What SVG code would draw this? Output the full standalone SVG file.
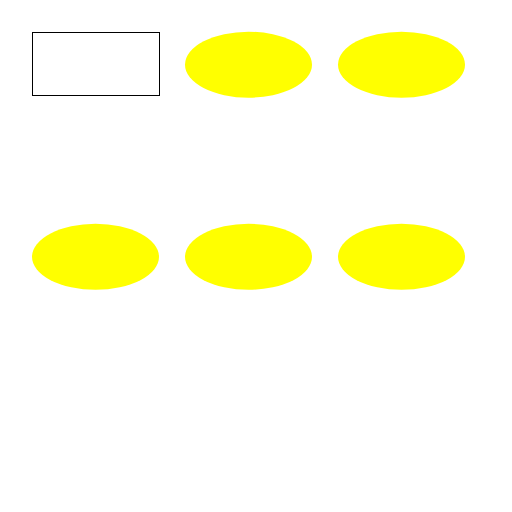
<svg xmlns="http://www.w3.org/2000/svg" width="512" height="512" viewBox="0 0 512 512">
<style>
.box{fill:#ffffff;stroke:#000000;stroke-width:1}
.oval{fill:#ffff00;stroke:none}
</style>
<rect width="512" height="512" fill="#ffffff"/>
<g id="node-rect"><rect class="box" x="32.5" y="32.5" width="127" height="63"/></g>
<g id="node-e1"><ellipse class="oval" cx="248.5" cy="64.7" rx="63.5" ry="33"/></g>
<g id="node-e2"><ellipse class="oval" cx="401.5" cy="64.7" rx="63.5" ry="33"/></g>
<g id="node-e3"><ellipse class="oval" cx="95.5" cy="256.8" rx="63.5" ry="33"/></g>
<g id="node-e4"><ellipse class="oval" cx="248.5" cy="256.8" rx="63.5" ry="33"/></g>
<g id="node-e5"><ellipse class="oval" cx="401.5" cy="256.8" rx="63.5" ry="33"/></g>
<g id="connectors"></g>
</svg>
